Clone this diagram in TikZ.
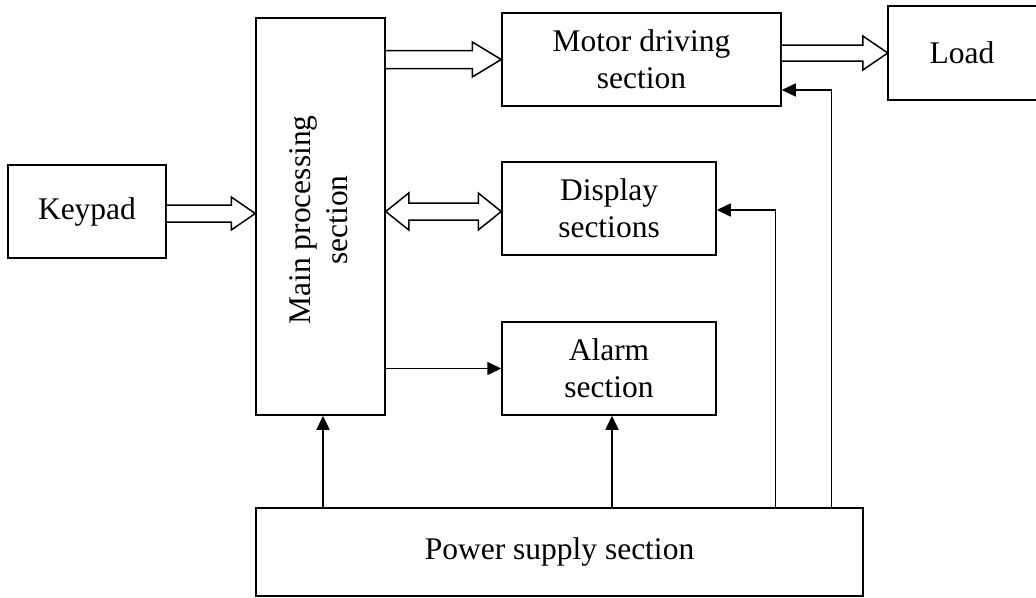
\documentclass[tikz,border=0pt]{standalone}
\usepackage{fontspec}
\setmainfont{Liberation Serif}
\usetikzlibrary{arrows.meta,calc}
\tikzset{
  box/.style={draw, line width=1.5pt, inner sep=0pt, align=center, fill=white},
  hollow/.style={draw, fill=white, line width=1.5pt, line join=miter},
  arr/.style={line width=1.5pt, -{Triangle[length=14pt,width=13pt]}},
}
% single hollow block arrow: #1 tail centre, #2 tip, #3 shaft half, #4 head half, #5 head length
\newcommand\hollowR[5]{%
  \draw[hollow] let \p1=#1, \p2=#2 in
    (\x1,\y2+#3) -- (\x2-#5,\y2+#3) -- (\x2-#5,\y2+#4) -- (\x2,\y2)
    -- (\x2-#5,\y2-#4) -- (\x2-#5,\y2-#3) -- (\x1,\y2-#3);}
% double hollow block arrow between #1 (left tip) and #2 (right tip)
\newcommand\hollowD[5]{%
  \draw[hollow] let \p1=#1, \p2=#2 in
    (\x1,\y1) -- (\x1+#5,\y1+#4) -- (\x1+#5,\y1+#3) -- (\x2-#5,\y1+#3)
    -- (\x2-#5,\y1+#4) -- (\x2,\y1) -- (\x2-#5,\y1-#4) -- (\x2-#5,\y1-#3)
    -- (\x1+#5,\y1-#3) -- (\x1+#5,\y1-#4) -- cycle;}
\begin{document}
\begin{tikzpicture}[x=1pt,y=-1pt]
\useasboundingbox (0,0) rectangle (1036,597);
\fontsize{31.5}{37}\selectfont
\node[box, minimum width=158, minimum height=93] (keypad) at (87,211.5) {Keypad};
\node[box, minimum width=129, minimum height=397] (main) at (320.5,216.5) {};
\node[rotate=90, align=center, inner sep=0pt] (maintext) at (318.5,220) {Main processing\\section};
\node[box, minimum width=279, minimum height=93] (motor) at (641.5,59.5) {Motor driving\\section};
\node[inner sep=0pt, minimum width=148, minimum height=94] (load) at (962,53) {Load};
\draw[line width=1.5pt] (load.north east) -- (load.north west) -- (load.south west) -- (load.south east);
\node[box, minimum width=214, minimum height=93] (display) at (609,208.5) {Display\\sections};
\node[box, minimum width=214, minimum height=93] (alarm) at (609,368.5) {Alarm\\section};
\node[box, minimum width=607, minimum height=88] (power) at (559.5,552) {Power supply section};

% hollow arrows
\hollowR{(main.east |- motor.west)}{(motor.west)}{9pt}{17.5pt}{29pt}
\hollowR{(motor.east |- load.west)}{(load.west)}{8pt}{17pt}{25pt}
\hollowR{($(keypad.east)+(0,2)$)}{($(main.west |- keypad.east)+(0,2)$)}{8.5pt}{16.5pt}{24pt}
\hollowD{($(main.east |- display.west)+(0,3)$)}{($(display.west)+(0,3)$)}{8.5pt}{18.5pt}{23pt}

% solid arrows
\draw[arr] (main.east |- alarm.west) -- (alarm.west);
\draw[arr] ($(power.north -| main.south)+(2.5,0)$) -- ($(main.south)+(2.5,0)$);
\draw[arr] ($(power.north -| alarm.south)+(3,0)$) -- ($(alarm.south)+(3,0)$);
\coordinate (fd) at ($(power.north west)+(520,0)$);
\coordinate (fm) at ($(power.north west)+(576,0)$);
\draw[arr] (fd) |- ($(display.east)+(0,1.5)$);
\draw[arr] (fm) |- ($(motor.east)+(0,30.5)$);
\end{tikzpicture}
\end{document}
